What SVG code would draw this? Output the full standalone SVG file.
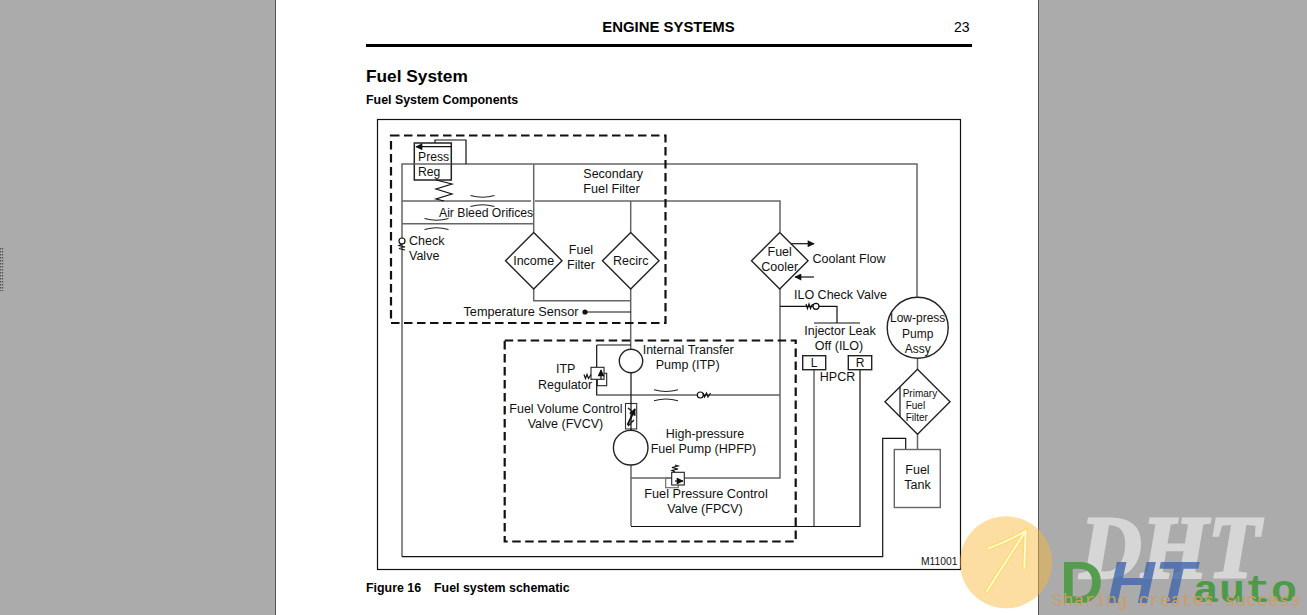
<svg xmlns="http://www.w3.org/2000/svg" width="1307" height="615" viewBox="0 0 1307 615">
<style>
text{font-family:"Liberation Sans",Arial,sans-serif;font-size:12.5px;fill:#111}
.m{text-anchor:middle}
.b{font-weight:bold;fill:#000}
.g{fill:none;stroke:#666;stroke-width:1.5}
.k{fill:none;stroke:#111;stroke-width:1.2}
.shape{fill:#fff;stroke:#222;stroke-width:1.4}
.dash{fill:none;stroke:#111;stroke-width:2.2;stroke-dasharray:8.5 4.5}
</style>
<defs>
<marker id="ah" viewBox="0 0 10 10" refX="9" refY="5" markerWidth="8" markerHeight="7" markerUnits="userSpaceOnUse" orient="auto"><path d="M0 0L10 5L0 10z" fill="#111"/></marker>
<path id="ori" d="M-12-5.5Q0-2 12-5.5M-12 5.5Q0 2 12 5.5" fill="none" stroke="#222" stroke-width="1.1"/>
</defs>
<rect width="1307" height="615" fill="#ababab"/>
<rect x="275.5" y="-1" width="763" height="617" fill="#fff" stroke="#555"/>
<path d="M.5 248V291M2.5 248V291" stroke="#555" stroke-width="1.3" stroke-dasharray="1.4 1.6" fill="none"/>

<g id="page-header">
<text class="b m" x="668.5" y="32" style="font-size:14.9px">ENGINE SYSTEMS</text>
<text x="954" y="32" style="font-size:14px;fill:#000">23</text>
<rect x="366" y="44" width="606" height="3" fill="#000"/>
<text class="b" x="366" y="82" style="font-size:17.3px">Fuel System</text>
<text class="b" x="366" y="104" style="font-size:12.4px">Fuel System Components</text>
<text class="b" x="366" y="592" style="font-size:12.4px">Figure 16</text>
<text class="b" x="434" y="592" style="font-size:12.4px">Fuel system schematic</text>
</g>
<rect id="frame" x="377.5" y="119.5" width="583" height="450" fill="none" stroke="#111" stroke-width="1.2"/>

<g id="connectors">
<path class="g" d="M402 556.7V164H917V297M402 201H531M535 201H780V232M402 223.7H533.7M533.7 164V232M630.7 201V232M533.7 289V300.7H630.7M630.7 289V350"/>
<path class="k" d="M435 143V140H466V164M585 312H630.7"/>
<path class="k" d="M596.7 345H631M596.7 345V395H780M631 373V430"/>
<path class="g" d="M780 289V478H684M672 478H631M631 465V526"/>
<path class="k" d="M631 526.5H860V369.7"/>
<path class="g" d="M814 369.7V526"/>
<path class="k" d="M780 306.3H837V323M814 323H860"/>
<path class="g" d="M917.5 358V369.3M917.5 434.3V449.3"/>
<path class="k" d="M402 556.7H882.7V438.3H905.7V449.3"/>
<path class="k" marker-end="url(#ah)" d="M790.7 243.7H814"/>
<path class="k" marker-end="url(#ah)" d="M814 277H795"/>
</g>

<rect id="zone-fuel-filter" class="dash" x="391" y="135.5" width="274.5" height="187.5"/>
<rect id="zone-fuel-pump" class="dash" x="504.7" y="340.5" width="291" height="201"/>

<g id="press-reg">
<rect x="414.3" y="143" width="37" height="37" fill="#fff" stroke="#222" stroke-width="1.5"/>
<path class="k" d="M451 146.7H416" marker-end="url(#ah)"/>
<path class="g" d="M451 164H414"/>
<path class="k" d="M436 180L452 184L436 189L452 194L436 199L444 201"/>
<text x="418" y="160.5" style="font-size:12.2px">Press</text>
<text x="418" y="176" style="font-size:12.2px">Reg</text>
</g>
<g id="air-bleed-orifices">
<use href="#ori" x="482.5" y="201"/>
<use href="#ori" x="436.5" y="224"/>
<text x="439" y="216.8" style="font-size:12.2px">Air Bleed Orifices</text>
</g>
<g id="check-valve">
<circle cx="402" cy="241" r="3" fill="#fff" stroke="#111" stroke-width="1.2"/>
<path class="k" d="M402 244L399 245.5L405 247L399 248.5L405 250"/>
<text x="409" y="245">Check</text>
<text x="409" y="260">Valve</text>
</g>
<g id="income-filter">
<path class="shape" d="M533.7 232.5L562 260.7L533.7 289L505.5 260.7Z"/>
<text class="m" x="533.7" y="264.5">Income</text>
</g>
<g id="fuel-filter-label">
<text class="m" x="581" y="253.7">Fuel</text>
<text class="m" x="581" y="269">Filter</text>
</g>
<g id="recirc-filter">
<path class="shape" d="M630.7 232.5L659 260.7L630.7 289L602.5 260.7Z"/>
<text class="m" x="630.7" y="264.5">Recirc</text>
</g>
<g id="secondary-filter-label">
<text x="583.3" y="178">Secondary</text>
<text x="583.3" y="193" style="font-size:12.7px">Fuel Filter</text>
</g>
<g id="temperature-sensor">
<circle cx="585" cy="312" r="2.6" fill="#111"/>
<text x="463.5" y="315.7" style="font-size:12.7px">Temperature Sensor</text>
</g>
<g id="fuel-cooler">
<path class="shape" d="M779.7 232.5L808 260.7L779.7 289L751.5 260.7Z"/>
<text class="m" x="779.7" y="255.7">Fuel</text>
<text class="m" x="779.7" y="270.7">Cooler</text>
<text x="812.5" y="263.3">Coolant Flow</text>
</g>
<g id="ilo-check-valve">
<circle cx="816" cy="306.3" r="3" fill="#fff" stroke="#111" stroke-width="1.2"/>
<path class="k" d="M806 304L807.5 308.5L809 304L810.5 308.5L812.5 304"/>
<text x="794" y="299">ILO Check Valve</text>
</g>
<g id="injector-leak-off">
<text class="m" x="840" y="335">Injector Leak</text>
<text class="m" x="839" y="350">Off (ILO)</text>
</g>
<g id="hpcr">
<rect class="shape" x="802.7" y="355.7" width="23" height="14"/>
<rect class="shape" x="848.3" y="355.7" width="23.4" height="14"/>
<text class="m" x="814" y="366.5" style="font-size:12px">L</text>
<text class="m" x="860" y="366.5" style="font-size:12px">R</text>
<text class="m" x="837.5" y="380.7">HPCR</text>
</g>
<g id="low-press-pump">
<circle class="shape" cx="917.7" cy="327.7" r="30.5"/>
<text class="m" x="917.7" y="322.3" style="font-size:12px">Low-press</text>
<text class="m" x="917.7" y="337.7" style="font-size:12px">Pump</text>
<text class="m" x="917.7" y="352.7" style="font-size:12px">Assy</text>
</g>
<g id="primary-fuel-filter">
<path class="shape" d="M917.5 369.3L950 401.8L917.5 434.3L885 401.8Z"/>
<path class="k" d="M900 387V417"/>
<text x="902.7" y="396.7" style="font-size:10px">Primary</text>
<text x="905.7" y="409" style="font-size:10px">Fuel</text>
<text x="905.7" y="421" style="font-size:10px">Filter</text>
</g>
<g id="fuel-tank">
<rect x="894.3" y="449.5" width="46" height="58" fill="#fff" stroke="#666" stroke-width="1.4"/>
<text class="m" x="917.5" y="474">Fuel</text>
<text class="m" x="917.5" y="489">Tank</text>
</g>
<g id="itp">
<circle class="shape" cx="631" cy="361" r="11.7"/>
<text x="642.7" y="354">Internal Transfer</text>
<text x="655.7" y="369">Pump (ITP)</text>
</g>
<g id="itp-regulator">
<rect class="shape" x="597.3" y="373.3" width="9.4" height="12.4" style="stroke-width:1.1"/>
<rect class="shape" x="591" y="367.3" width="13" height="12" style="stroke-width:1.1"/>
<path class="k" d="M601 379V370" marker-end="url(#ah)"/>
<path class="k" d="M584 374.5L585.5 378.5L587 374.5L588.5 378.5L591 374.5"/>
<text x="556" y="372.7">ITP</text>
<text x="538" y="389">Regulator</text>
</g>
<g id="return-orifice-check">
<use href="#ori" x="666" y="395.3"/>
<circle cx="700.3" cy="395" r="3" fill="#fff" stroke="#111" stroke-width="1.2"/>
<path class="k" d="M703 393L704.5 397L706.5 393L708 397L710.5 393"/>
</g>
<g id="fvcv">
<rect x="625.5" y="403.5" width="11.2" height="25.5" fill="#fff" stroke="#333" stroke-width="1.1"/>
<path class="k" d="M631 403V430M628 408L634 413M634 420L628 426"/>
<path d="M627.5 425L635 409" stroke="#111" stroke-width="1.8" marker-end="url(#ah)"/>
<text x="509.3" y="413.3">Fuel Volume Control</text>
<text x="527.7" y="428">Valve (FVCV)</text>
</g>
<g id="hpfp">
<circle class="shape" cx="630.7" cy="447.7" r="17.3"/>
<text x="665.7" y="437.7">High-pressure</text>
<text x="650.7" y="452.7">Fuel Pump (HPFP)</text>
</g>
<g id="fpcv">
<rect class="shape" x="665.7" y="478.3" width="12.6" height="9.4" style="stroke-width:1.1;stroke:#666"/>
<rect class="shape" x="671.7" y="472.3" width="12.6" height="12.7" style="stroke-width:1.1"/>
<path class="k" d="M675 481H683" marker-end="url(#ah)"/>
<path class="k" d="M675 472L672 470.5L678 469L672 467.5L678 466L675 465"/>
<text x="644.3" y="498" style="font-size:12.7px">Fuel Pressure Control</text>
<text x="667.3" y="513">Valve (FPCV)</text>
</g>
<text id="figure-code" x="921" y="565" style="font-size:10.3px">M11001</text>

<g id="watermark">
<circle cx="1006" cy="562.3" r="46" fill="#fbb93a" fill-opacity=".47"/>
<path d="M987 591L1025.7 531M988.3 548.3Q1006 542 1025.7 531L1024.3 568.3" fill="none" stroke="#ffd84a" stroke-opacity=".6" stroke-width="4.5" stroke-linecap="round"/>
<path d="M987 591L1025.7 531M988.3 548.3Q1006 542 1025.7 531L1024.3 568.3" fill="none" stroke="#fffbe0" stroke-width="1.8" stroke-linecap="round"/>
<text x="1080" y="577" textLength="180" lengthAdjust="spacingAndGlyphs" style="font-family:'Liberation Serif',serif;font-size:88px;font-weight:bold;font-style:italic;fill:#d6d6d6;stroke:#d6d6d6;stroke-width:3">DHT</text>
<text x="1060" y="603" style="font-size:60px;font-weight:bold;fill:#4f9a48;fill-opacity:.95">D</text>
<text x="1107" y="603" textLength="88" lengthAdjust="spacingAndGlyphs" style="font-size:60px;font-weight:bold;font-style:italic;fill:#3f66ab;fill-opacity:.8">HT</text>
<text x="1193" y="602" textLength="104" lengthAdjust="spacingAndGlyphs" style="font-family:'Liberation Mono',monospace;font-size:38px;font-weight:bold;fill:#4f9a48">auto</text>
<text x="1052" y="606" style="font-family:'Liberation Mono',monospace;font-size:18px;fill:#c6a06a">Sharing creates success</text>
</g>
</svg>
